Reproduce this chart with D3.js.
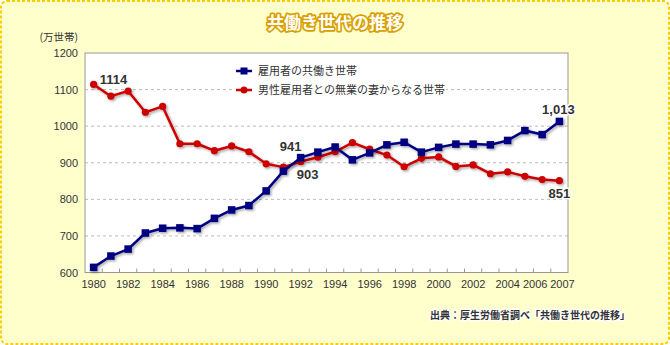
<!DOCTYPE html>
<html><head><meta charset="utf-8">
<script src="https://cdn.jsdelivr.net/npm/d3@7/dist/d3.min.js"></script>
<style>
html,body{margin:0;padding:0;background:#fff;}
svg{display:block;font-family:"Noto Sans CJK JP","DejaVu Sans",sans-serif;}
</style></head><body>
<svg id="c" width="670" height="345"></svg>
<script>
const years = [1980,1981,1982,1983,1984,1985,1986,1987,1988,1989,1990,1991,1992,1993,1994,1995,1996,1997,1998,1999,2000,2001,2002,2003,2004,2005,2006,2007];
const dualIncome = [614,645,664,708,721,722,720,748,771,783,823,877,914,929,943,908,927,949,956,929,942,951,951,949,961,988,977,1013];
const singleIncome = [1114,1082,1096,1038,1054,952,952,933,946,930,897,888,903,915,930,955,937,921,889,912,916,890,894,870,875,863,854,851];
const xTickLabels = [1980,1982,1984,1986,1988,1990,1992,1994,1996,1998,2000,2002,2004,2006,2007];
const yTicks = [600,700,800,900,1000,1100,1200];
const seriesNames = ["雇用者の共働き世帯","男性雇用者との無業の妻からなる世帯"];
const title = "共働き世代の推移";
const unitLabel = "(万世帯)";
const source = "出典：厚生労働省調べ「共働き世代の推移」";

const svg = d3.select("#c");
const defs = svg.append("defs");
const f = defs.append("filter").attr("id","sh").attr("x","-20%").attr("y","-20%").attr("width","140%").attr("height","140%");
f.append("feDropShadow").attr("dx",1.5).attr("dy",1.5).attr("stdDeviation",1).attr("flood-color","#000").attr("flood-opacity",0.35);

// background
svg.append("rect").attr("x",1).attr("y",1).attr("width",668).attr("height",343).attr("rx",6)
  .attr("fill","#ffffcc").attr("stroke","#ffcc00").attr("stroke-width",2).attr("stroke-dasharray","3,2");

// title
svg.append("text").attr("x",335).attr("y",29).attr("text-anchor","middle")
  .attr("font-size",17).attr("font-weight","bold").attr("fill","#fff")
  .attr("stroke","#d9a000").attr("stroke-width",3.5).attr("paint-order","stroke").attr("stroke-linejoin","round")
  .text(title);

const L=85,R=568,T=53,B=272.5;
const x = d3.scaleBand().domain(years).range([L,R]);
const cx = d => x(d)+x.bandwidth()/2;
const y = d3.scaleLinear().domain([600,1200]).range([B,T]);

svg.append("rect").attr("x",L).attr("y",T).attr("width",R-L).attr("height",B-T).attr("fill","#fff");

// grid
svg.append("g").selectAll("line").data(yTicks.filter(v=>v>600&&v<1200)).join("line")
  .attr("x1",L).attr("x2",R).attr("y1",d=>y(d)).attr("y2",d=>y(d))
  .attr("stroke","#bbb").attr("stroke-dasharray","3,3");

// border
svg.append("rect").attr("x",L).attr("y",T).attr("width",R-L).attr("height",B-T)
  .attr("fill","none").attr("stroke","#999").attr("stroke-width",1);

// y axis
const ya = svg.append("g").attr("transform",`translate(${L},0)`)
  .call(d3.axisLeft(y).tickValues(yTicks).tickFormat(d3.format("d")).tickSize(0).tickPadding(7));
ya.select(".domain").remove();
ya.selectAll("text").attr("font-size",11).attr("fill","#333").attr("font-family","Liberation Sans, Arial, sans-serif");

svg.append("text").attr("x",78).attr("y",41).attr("text-anchor","end").attr("font-size",10.5).attr("fill","#333").text(unitLabel);

// x axis
const xa = svg.append("g").attr("transform",`translate(0,${B})`)
  .call(d3.axisBottom(x).tickValues(xTickLabels).tickFormat(d3.format("d")).tickSize(0).tickPadding(8));
xa.select(".domain").remove();
xa.selectAll("text").attr("font-size",11).attr("fill","#333").attr("font-family","Liberation Sans, Arial, sans-serif")
  .attr("dx",d=>d===2006?-7:(d===2007?3:0));
svg.append("g").selectAll("line").data(years.slice(1)).join("line")
  .attr("x1",d=>x(d)).attr("x2",d=>x(d)).attr("y1",B).attr("y2",B-4)
  .attr("stroke","#999");

// legend
const lg = svg.append("g");
lg.append("rect").attr("x",233).attr("y",62).attr("width",213).attr("height",36).attr("fill","#fff");
const legendItems = [{name:seriesNames[0],color:"#000080",shape:"sq"},{name:seriesNames[1],color:"#cc0000",shape:"ci"}];
legendItems.forEach((it,i)=>{
  const yy = 71 + i*19;
  lg.append("line").attr("x1",236).attr("x2",252).attr("y1",yy).attr("y2",yy).attr("stroke",it.color).attr("stroke-width",2.5);
  if(it.shape==="sq") lg.append("rect").attr("x",240.5).attr("y",yy-3.5).attr("width",7).attr("height",7).attr("fill",it.color);
  else lg.append("circle").attr("cx",244).attr("cy",yy).attr("r",3.5).attr("fill",it.color);
  lg.append("text").attr("x",258).attr("y",yy+4).attr("font-size",11).attr("fill","#333").text(it.name);
});

// series
const line = d3.line().x((d,i)=>cx(years[i])).y(d=>y(d));
const gS = svg.append("g").attr("filter","url(#sh)");
gS.append("path").datum(singleIncome).attr("d",line).attr("fill","none").attr("stroke","#cc0000").attr("stroke-width",2.5).attr("stroke-linejoin","round");
gS.selectAll("circle").data(singleIncome).join("circle").attr("cx",(d,i)=>cx(years[i])).attr("cy",d=>y(d)).attr("r",3.6).attr("fill","#cc0000");
const gD = svg.append("g").attr("filter","url(#sh)");
gD.append("path").datum(dualIncome).attr("d",line).attr("fill","none").attr("stroke","#000080").attr("stroke-width",2.5).attr("stroke-linejoin","round");
gD.selectAll("rect").data(dualIncome).join("rect").attr("x",(d,i)=>cx(years[i])-3.75).attr("y",d=>y(d)-3.75).attr("width",7.5).attr("height",7.5).attr("fill","#000080");

// annotations
function ann(txt,px,py,dx,dy,anchor){
  svg.append("text").attr("x",px+dx).attr("y",py+dy).attr("text-anchor",anchor)
    .attr("font-size",13).attr("font-weight","bold").attr("fill","#333")
    .attr("font-family","Liberation Sans, Arial, sans-serif")
    .attr("stroke","#fff").attr("stroke-width",3).attr("paint-order","stroke").attr("stroke-linejoin","round")
    .text(txt);
}
ann("1114", cx(1980), y(singleIncome[0]), 6, 0, "start");
ann("941", cx(1992), y(dualIncome[12]), -10, -7, "middle");
ann("903", cx(1992), y(singleIncome[12]), 7, 17, "middle");
ann("1,013", cx(2007), y(dualIncome[27]), -1, -7, "middle");
ann("851", cx(2007), y(singleIncome[27]), 0, 17, "middle");

// source
svg.append("text").attr("x",630).attr("y",319).attr("text-anchor","end")
  .attr("font-size",10).attr("font-weight","bold").attr("fill","#333")
  .attr("stroke","#fff").attr("stroke-width",2.5).attr("paint-order","stroke").attr("stroke-linejoin","round")
  .text(source);
</script>
</body></html>
